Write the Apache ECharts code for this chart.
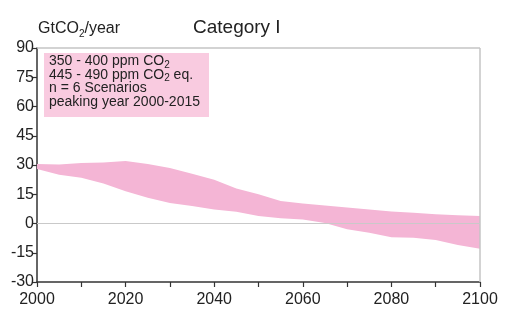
<!DOCTYPE html>
<html>
<head>
<meta charset="utf-8">
<script src="https://cdn.jsdelivr.net/npm/echarts@6/dist/echarts.min.js"></script>
<style>
  html, body { margin: 0; padding: 0; background: #fff; }
  #chart { width: 505px; height: 333px; }
</style>
</head>
<body>
<div id="chart"></div>
<script>
// Emission corridor for the scenario category (GtCO2/year)
const years = [2000, 2005, 2010, 2015, 2020, 2025, 2030, 2035, 2040, 2045, 2050,
               2055, 2060, 2065, 2070, 2075, 2080, 2085, 2090, 2095, 2100];
const upperBound = [30.5, 30.2, 31.0, 31.3, 32.0, 30.5, 28.5, 25.5, 22.5, 18.0, 15.0,
                    11.5, 10.2, 9.2, 8.2, 7.2, 6.2, 5.5, 4.8, 4.2, 3.8];
const lowerBound = [28.0, 25.0, 23.5, 20.5, 16.5, 13.2, 10.5, 9.0, 7.2, 6.0, 3.8,
                    2.7, 2.0, 0.3, -3.0, -4.8, -7.0, -7.3, -8.5, -11.0, -13.0];
const yTicks = { min: -30, max: 90, step: 15 };
const xTicks = { min: 2000, max: 2100, step: 10, labelStep: 20 };
const titleText = 'Category I';
const boxLines = [
  '350 - 400 ppm CO{sub|2}',
  '445 - 490 ppm CO{sub|2} eq.',
  'n = 6 Scenarios',
  'peaking year 2000-2015'
];

const bandColor = '#f4b5d5';
const boxColor = '#f9cbe0';
const font = 'Liberation Sans, Arial, sans-serif';

// One row per year: [year, lower, upper]
const bandData = years.map((y, i) => [y, lowerBound[i], upperBound[i]]);

const chart = echarts.init(document.getElementById('chart'), null, { renderer: 'canvas' });

chart.setOption({
  animation: false,
  backgroundColor: '#fff',
  grid: { left: 37, right: 25, top: 48, bottom: 51, show: false },
  xAxis: {
    type: 'value',
    min: xTicks.min, max: xTicks.max, interval: xTicks.step,
    axisLine: { show: true, onZero: false, lineStyle: { color: '#333', width: 1.5 } },
    axisTick: { show: true, length: 5, lineStyle: { color: '#333', width: 1.2 } },
    splitLine: { show: false },
    axisLabel: {
      color: '#222', fontSize: 16, fontFamily: font, margin: 10,
      formatter: v => (v % xTicks.labelStep === 0 ? String(v) : '')
    }
  },
  yAxis: {
    type: 'value',
    min: yTicks.min, max: yTicks.max, interval: yTicks.step,
    axisLine: { show: true, lineStyle: { color: '#333', width: 1.5 } },
    axisTick: { show: true, length: 5, lineStyle: { color: '#333', width: 1.2 } },
    splitLine: { show: false },
    axisLabel: { color: '#222', fontSize: 16, fontFamily: font, margin: 3 }
  },
  series: [
    {
      // filled corridor between the lower and upper bounds
      type: 'custom',
      data: bandData,
      encode: { x: 0, y: [1, 2] },
      silent: true,
      z: 2,
      renderItem: function (params, api) {
        if (params.dataIndex !== 0) return null;
        const top = bandData.map(d => api.coord([d[0], d[2]]));
        const bottom = bandData.map(d => api.coord([d[0], d[1]])).reverse();
        return {
          type: 'polygon',
          shape: { points: top.concat(bottom) },
          style: { fill: bandColor, stroke: null }
        };
      }
    },
    {
      // zero line and top/right frame of the plot area
      type: 'line', data: [], symbol: 'none', z: 3,
      markLine: {
        silent: true, symbol: 'none', label: { show: false },
        lineStyle: { color: '#c4c4c4', width: 1.5, type: 'solid' },
        data: [
          [{ coord: [xTicks.min, yTicks.max] }, { coord: [xTicks.max, yTicks.max] }],
          [{ coord: [xTicks.max, yTicks.min] }, { coord: [xTicks.max, yTicks.max] }],
          [{ coord: [xTicks.min, 0], lineStyle: { color: '#c9c9c9', width: 1 } },
           { coord: [xTicks.max, 0] }]
        ]
      }
    }
  ],
  graphic: [
    {
      type: 'text', left: 38, top: 21,
      style: {
        text: 'GtCO{sub|2}/year', fill: '#222', fontSize: 16, fontFamily: font,
        rich: { sub: { fontSize: 10, fill: '#222', fontFamily: font, padding: [10, 0, 0, 0] } }
      }
    },
    {
      type: 'text', left: 193, top: 18,
      style: { text: titleText, fill: '#222', fontSize: 19, fontFamily: font }
    },
    {
      type: 'rect', shape: { x: 44, y: 53, width: 165, height: 64 },
      style: { fill: boxColor }, z: 10
    },
    {
      type: 'text', left: 49, top: 53, z: 11,
      style: {
        text: boxLines.join('\n'), fill: '#222', fontSize: 14, fontFamily: font,
        lineHeight: 13.5,
        rich: { sub: { fontSize: 10, fill: '#222', fontFamily: font, padding: [7, 0, 0, 0], lineHeight: 13.5 } }
      }
    }
  ]
});
</script>
</body>
</html>
